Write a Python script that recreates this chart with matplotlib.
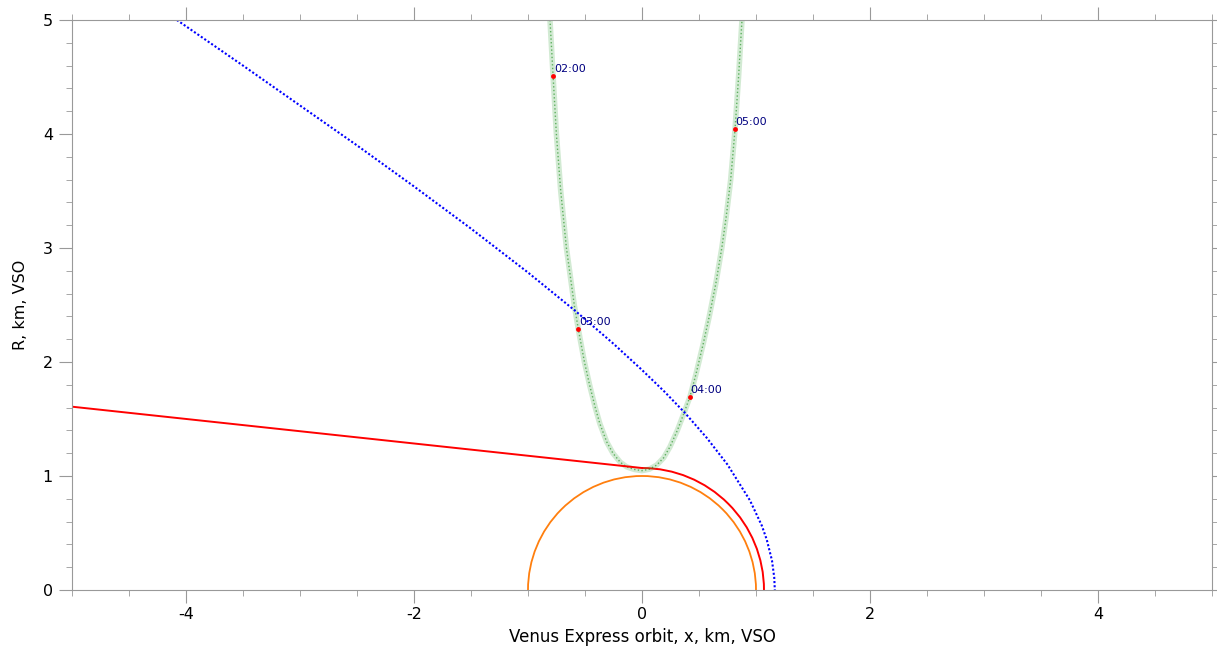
import numpy as np
import matplotlib.pyplot as plt
from matplotlib.patches import Arc

plt.rcParams['axes.unicode_minus'] = False

# bow shock (x, R in Venus radii)
shock_x = [-4.08, -3.5, -3.0, -2.5, -2.0, -1.5, -1.0, -0.575, -0.25, 0.0,
           0.2, 0.377, 0.567, 0.75, 0.947, 1.05, 1.094, 1.14, 1.16, 1.165]
shock_r = [5.00, 4.60, 4.25, 3.90, 3.54, 3.17, 2.785, 2.44, 2.16, 1.93,
           1.737, 1.553, 1.336, 1.10, 0.786, 0.567, 0.443, 0.26, 0.11, 0.0]

# ionopause: nightside straight flare + dayside circle
iono_x = [-5.0, 0.0]
iono_r = [1.608, 1.07]
iono_day_radius = 1.07
venus_radius = 1.0

# Venus Express orbit track
orbit_x = [-0.807, -0.780, -0.751, -0.713, -0.663, -0.594, -0.559, -0.505, -0.46,
           -0.41, -0.37, -0.31, -0.255, -0.19, -0.134, -0.07, 0.0,
           0.065, 0.129, 0.19, 0.246, 0.31, 0.362, 0.421, 0.475, 0.538, 0.59,
           0.648, 0.700, 0.738, 0.778, 0.816, 0.847, 0.877]
orbit_r = [5.0, 4.51, 4.0, 3.5, 3.0, 2.5, 2.29, 2.0, 1.8,
           1.6, 1.46, 1.3, 1.2, 1.12, 1.08, 1.058, 1.047,
           1.06, 1.096, 1.16, 1.257, 1.4, 1.535, 1.696, 1.9, 2.164, 2.4,
           2.69, 3.0, 3.27, 3.6, 4.04, 4.5, 5.0]

# hourly marks on the orbit
time_labels = ['02:00', '03:00', '04:00', '05:00']
time_x = [-0.78, -0.559, 0.421, 0.816]
time_r = [4.51, 2.29, 1.696, 4.04]

fig = plt.figure(figsize=(12.17, 6.46), dpi=100)
ax = fig.add_axes([72 / 1217, 1 - 590 / 646, 1140 / 1217, 570 / 646])

ax.plot(orbit_x, orbit_r, color='#4caf50', lw=4, alpha=0.25, solid_joinstyle='round')
ax.plot(orbit_x, orbit_r, color='green', lw=1, ls=':', alpha=0.55)

ax.add_patch(Arc((0, 0), 2 * venus_radius, 2 * venus_radius, theta1=0, theta2=180,
                 color='#ff7f0e', lw=1.3))
ax.add_patch(Arc((0, 0), 2 * iono_day_radius, 2 * iono_day_radius, theta1=0, theta2=90,
                 color='red', lw=1.4))
ax.plot(iono_x, iono_r, color='red', lw=1.4)

ax.plot(shock_x, shock_r, color='blue', lw=1.5, ls=(0, (1, 1)))

ax.plot(time_x, time_r, 'o', color='red', ms=3.5, mec='none')
for lab, x, r in zip(time_labels, time_x, time_r):
    ax.annotate(lab, (x, r), xytext=(0.5, 1.5), textcoords='offset points',
                ha='left', va='bottom', fontsize=8, color='navy')

ax.set_xlim(-5, 5)
ax.set_ylim(0, 5)
ax.set_aspect('equal')
ax.set_xticks([-4, -2, 0, 2, 4])
ax.set_xticks(np.arange(-5, 5.01, 0.5), minor=True)
ax.set_yticks([0, 1, 2, 3, 4, 5])
ax.set_yticks(np.arange(0, 5.01, 0.2), minor=True)
ax.tick_params(which='both', direction='out', color='#999999', top=True, right=True,
               labeltop=False, labelright=False, labelsize=11.5)
ax.tick_params(which='major', length=9.4)
ax.tick_params(which='minor', length=4.2)
ax.tick_params(axis='x', which='major', pad=3)
ax.tick_params(axis='y', which='major', pad=4.3)
for s in ax.spines.values():
    s.set_color('#999999')

ax.set_xlabel('Venus Express orbit, x, km, VSO', fontsize=12, labelpad=4)
ax.set_ylabel('R, km, VSO', fontsize=11.5, labelpad=10.5)

fig.savefig('out.png', dpi=100)
